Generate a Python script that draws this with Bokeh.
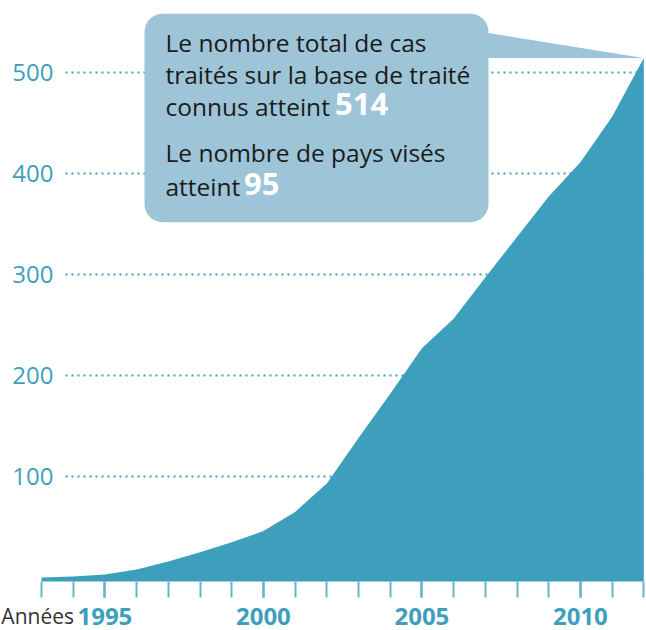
from bokeh.plotting import figure
from bokeh.models import Range1d, FixedTicker, BoxAnnotation, Label
from bokeh.embed import file_html
from bokeh.resources import INLINE

# ---- data ----
years = list(range(1993, 2013))
cases = [0, 1, 3, 8, 16, 25, 35, 46, 65, 93, 138, 182, 227, 256, 297, 337, 377, 411, 456, 514]
y_ticks = [100, 200, 300, 400, 500]
x_major_ticks = [1995, 2000, 2005, 2010]
x_title = "Années"
callout_a = ["Le nombre total de cas", "traités sur la base de traité", "connus atteint"]
callout_a_value = "514"
callout_b = ["Le nombre de pays visés", "atteint"]
callout_b_value = "95"

# ---- style ----
TEAL = "#3e9fbd"
TEAL_LIGHT = "#66b3cb"
BOX = "#9ec4d8"
TEXT = "#1b1b1b"
FONT = "Open Sans"

W, H = 646, 630
PX_YEAR, PX_UNIT = 31.7, 1.0108
X0, Y0 = 41.0, 577.1          # pixel position of (1993, 0)
BASE_K = 0.38                 # label anchor -> baseline offset (fraction of font size)


def fx(px):
    return 1993 + (px - X0) / PX_YEAR


def fy(py):
    return (Y0 - py) / PX_UNIT


def fy_base(py, size):
    """anchor for a label whose text baseline should sit at pixel row py"""
    return fy(py - BASE_K * size)


y_base = fy(581)              # bottom of the filled area

p = figure(width=W, height=H, output_backend="svg", toolbar_location=None,
           x_range=Range1d(fx(0), fx(W)), y_range=Range1d(fy(H), fy(0)),
           min_border_left=0, min_border_right=0, min_border_top=0, min_border_bottom=0)
p.outline_line_color = None
p.grid.visible = False
p.background_fill_color = "white"
p.border_fill_color = "white"

# x axis (drawn at the base of the area)
xa = p.xaxis[0]
xa.fixed_location = y_base
xa.ticker = FixedTicker(ticks=x_major_ticks, minor_ticks=years)
xa.axis_line_color = None
xa.major_tick_out = 16
xa.major_tick_in = 0
xa.minor_tick_out = 16
xa.minor_tick_in = 0
xa.major_tick_line_color = TEAL
xa.major_tick_line_width = 2
xa.minor_tick_line_color = TEAL_LIGHT
xa.minor_tick_line_width = 2
xa.major_label_text_font = FONT
xa.major_label_text_font_size = "24px"
xa.major_label_text_font_style = "bold"
xa.major_label_text_color = TEAL
xa.major_label_standoff = 10

# y axis: labels at left, ticks drawn inward as dotted guide lines
ya = p.yaxis[0]
ya.fixed_location = fx(65)
ya.ticker = FixedTicker(ticks=y_ticks)
ya.axis_line_color = None
ya.major_tick_out = 0
ya.major_tick_in = 578
ya.minor_tick_out = 0
ya.minor_tick_in = 0
ya.minor_tick_line_color = None
ya.major_tick_line_color = TEAL
ya.major_tick_line_width = 2
ya.major_tick_line_dash = "2 4"
ya.major_label_standoff = 12
ya.major_label_text_font = FONT
ya.major_label_text_font_size = "24px"
ya.major_label_text_color = TEAL
ya.level = "underlay"

# area
p.varea(x=years, y1=y_base, y2=cases, fill_color=TEAL)

# callout pointer and box
p.patch(x=[fx(485), years[-1], fx(485)], y=[fy(32), cases[-1], cases[-1]],
        fill_color=BOX, line_color=None)
p.add_layout(BoxAnnotation(left=fx(144), right=fx(488), top=fy(13.3), bottom=fy(221.7),
                           fill_color=BOX, fill_alpha=1, line_color=None,
                           border_radius=18))

TXT_FS, NUM_FS = 24.5, 31
tx = fx(165)
for txt, yy in zip(callout_a, [51.7, 83.3, 115.0]):
    p.add_layout(Label(x=tx, y=fy_base(yy, TXT_FS), text=txt, text_font=FONT,
                       text_font_size=f"{TXT_FS}px", text_color=TEXT,
                       text_baseline="alphabetic", text_align="left"))
p.add_layout(Label(x=fx(334.5), y=fy_base(115.0, NUM_FS), text=callout_a_value, text_font=FONT,
                   text_font_size=f"{NUM_FS}px", text_font_style="bold", text_color="white",
                   text_baseline="alphabetic"))
for txt, yy in zip(callout_b, [161.7, 195.0]):
    p.add_layout(Label(x=tx, y=fy_base(yy, TXT_FS), text=txt, text_font=FONT,
                       text_font_size=f"{TXT_FS}px", text_color=TEXT,
                       text_baseline="alphabetic", text_align="left"))
p.add_layout(Label(x=fx(243.5), y=fy_base(195.0, NUM_FS), text=callout_b_value, text_font=FONT,
                   text_font_size=f"{NUM_FS}px", text_font_style="bold", text_color="white",
                   text_baseline="alphabetic"))

# x title
p.add_layout(Label(x=fx(73.5), y=fy_base(623.0, 21), text=x_title,
                   text_font="Liberation Sans Narrow, Open Sans", text_font_size="21px",
                   text_color="#333333", text_baseline="alphabetic", text_align="right"))

open("out.html", "w").write(file_html(p, INLINE))
